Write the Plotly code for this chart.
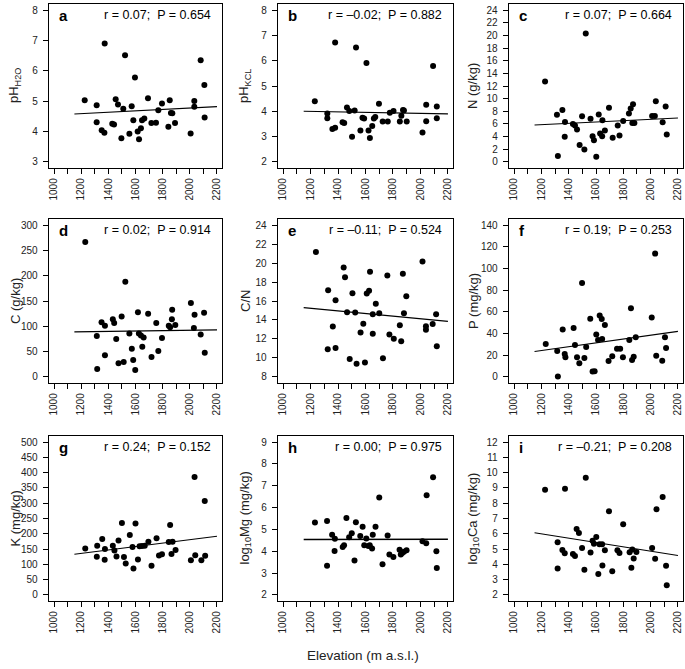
import plotly.graph_objects as go

# ---------------- data ----------------
elev_a = [1226,1314,1314,1351,1371,1373,1429,1442,1454,1471,1496,1510,1523,1555,1572,1584,1596,1616,1626,1640,1648,1665,1692,1717,1751,1768,1795,1842,1852,1861,1871,1891,2006,2033,2033,2080,2107,2109]
ph_h2o = [5.03,4.87,4.31,4.04,3.96,6.90,4.26,4.23,5.06,4.89,3.78,4.75,6.51,3.93,4.83,4.37,5.78,4.00,3.75,4.11,4.37,4.43,5.10,4.28,4.29,4.70,4.92,4.16,5.03,4.61,4.60,4.28,3.94,5.01,4.82,6.35,5.53,4.46]

elev_b = [1231,1322,1322,1359,1379,1379,1433,1445,1465,1482,1502,1521,1531,1563,1578,1590,1607,1622,1632,1649,1661,1671,1698,1725,1762,1777,1804,1850,1861,1873,1880,1900,2015,2042,2042,2092,2119,2119]
ph_kcl = [4.40,3.91,3.73,3.30,3.35,6.72,3.57,3.54,4.15,4.01,2.99,4.03,6.52,3.24,3.75,3.72,5.91,3.24,2.95,3.42,3.72,3.78,4.30,3.60,3.60,3.94,4.01,3.60,3.82,4.05,4.03,3.60,3.16,4.26,3.61,5.79,4.19,3.73]

elev_c = [1227,1314,1321,1354,1373,1371,1431,1446,1461,1480,1498,1515,1525,1560,1575,1585,1602,1620,1630,1645,1647,1665,1695,1722,1759,1772,1799,1841,1854,1871,1866,1881,2011,2031,2038,2088,2110,2118]
n_gkg = [12.73,7.46,0.94,8.19,6.31,3.96,6.0,5.74,5.11,2.66,7.2,1.98,20.29,6.83,4.07,3.44,0.83,7.51,4.49,4.07,6.57,4.96,8.55,3.81,5.74,4.17,6.47,7.67,8.45,9.13,6.16,6.16,7.25,7.25,9.6,6.26,8.76,4.33]

elev_d = [1230,1315,1318,1350,1375,1375,1433,1443,1458,1475,1498,1513,1525,1555,1573,1583,1598,1618,1625,1640,1650,1660,1693,1718,1753,1768,1795,1845,1855,1868,1870,1893,2008,2035,2030,2080,2105,2110]
c_gkg = [266.7,81,15.7,107.8,43,101,114,106.5,75,26.8,119.6,29.4,188,86,55.6,33.3,13.7,128,86,81.7,59.5,78,124.8,39.2,106.5,51,77,101,98,114,132.7,102.6,146,123,96.7,83.7,126.8,47.7]

elev_e = [1239,1328,1325,1362,1382,1382,1441,1451,1466,1485,1505,1525,1535,1564,1584,1596,1609,1626,1633,1653,1653,1675,1700,1727,1759,1774,1806,1850,1860,1872,1880,1897,2015,2040,2040,2089,2114,2119]
cn_ratio = [21.15,17.12,10.92,13.30,16.09,11.06,19.53,18.50,14.81,9.89,16.81,14.78,9.38,12.68,13.61,9.51,16.78,17.08,19.08,14.61,12.54,15.71,14.71,9.96,18.70,12.47,12.03,13.44,11.75,18.87,14.71,16.50,20.15,13.33,12.96,13.57,14.61,11.23]

elev_f = [1232,1316,1321,1356,1371,1376,1436,1446,1461,1478,1498,1515,1528,1558,1575,1590,1602,1615,1627,1642,1645,1665,1692,1719,1754,1777,1797,1844,1856,1864,1876,1891,2008,2033,2041,2085,2105,2113]
p_mgkg = [30.3,23.9,0.3,43.8,21.1,18.1,45,29.4,18.1,12.6,86.7,17.5,27.6,53.6,4.9,5.2,39.2,34,56.7,53.3,34.9,47.8,14.7,19,26,26,18.1,34,63.4,15.6,18.7,36.5,54.8,113.7,19.6,15,36.5,26.7]

elev_g = [1230,1318,1315,1355,1375,1373,1433,1445,1460,1475,1500,1515,1528,1558,1578,1585,1600,1618,1630,1648,1668,1695,1718,1755,1773,1795,1845,1855,1865,1873,1895,2008,2035,2040,2085,2110,2113]
k_mgkg = [152,161,125,183,150,115,161,145,126,178,235,124,103,196,157,86,234,116,159,160,161,174,95,185,129,133,173,229,134,174,147,113,386,130,113,307,128]

elev_h = [1232,1320,1320,1357,1377,1375,1434,1444,1461,1481,1500,1520,1530,1562,1579,1591,1606,1621,1631,1648,1653,1673,1700,1724,1761,1774,1803,1848,1857,1867,1880,1899,2015,2042,2045,2092,2116,2119]
log_mg = [5.32,5.39,3.34,4.76,4.57,4.01,4.19,4.27,5.52,4.64,4.82,3.58,5.33,4.70,5.12,4.27,4.58,4.24,4.28,4.12,4.75,5.12,6.46,3.40,4.72,3.85,3.74,4.07,3.85,3.92,3.98,4.04,4.46,4.37,6.57,7.39,4.00,3.23]

elev_i = [1227,1319,1319,1354,1371,1373,1431,1446,1458,1475,1498,1515,1525,1560,1575,1585,1602,1617,1625,1645,1647,1665,1695,1719,1757,1772,1799,1846,1859,1866,1876,1896,2011,2033,2043,2088,2113,2118]
log_ca = [8.88,3.73,5.44,4.94,4.73,8.95,4.68,4.55,6.31,6.05,5.07,3.64,9.66,4.77,5.55,5.35,5.79,3.36,5.31,5.31,3.93,4.92,7.48,3.54,4.92,4.75,6.63,4.79,3.77,4.97,4.38,4.81,5.07,4.36,7.61,8.41,3.90,2.63]

# fitted-line end values
trend_x = [1150, 2200]
trend_a = [4.58, 4.82]
trend_b = [4.00, 3.90]
trend_c = [5.84, 6.94]
trend_d = [89, 93]
trend_e = [15.3, 13.85]
trend_f = [23.5, 42]
trend_g = [133, 192]
trend_h = [4.54, 4.55]
trend_i = [6.07, 4.58]

letters = ["a", "b", "c", "d", "e", "f", "g", "h", "i"]
stats = ["r = 0.07;  P = 0.654", "r = \u20130.02;  P = 0.882", "r = 0.07;  P = 0.664",
         "r = 0.02;  P = 0.914", "r = \u20130.11;  P = 0.524", "r = 0.19;  P = 0.253",
         "r = 0.24;  P = 0.152", "r = 0.00;  P = 0.975", "r = \u20130.21;  P = 0.208"]
y_titles = ["pH<sub>H2O</sub>", "pH<sub>KCL</sub>", "N (g/kg)",
            "C (g/kg)", "C/N", "P (mg/kg)",
            "K (mg/kg)", "log<sub>10</sub>Mg (mg/kg)", "log<sub>10</sub>Ca (mg/kg)"]
y_ticks = [(3, 8, 1), (2, 8, 1), (0, 24, 2), (0, 300, 50), (8, 24, 2), (0, 140, 20),
           (0, 500, 50), (2, 9, 1), (2, 12, 1)]
x_title = "Elevation (m a.s.l.)"

xs = [elev_a, elev_b, elev_c, elev_d, elev_e, elev_f, elev_g, elev_h, elev_i]
ys = [ph_h2o, ph_kcl, n_gkg, c_gkg, cn_ratio, p_mgkg, k_mgkg, log_mg, log_ca]
trends = [trend_a, trend_b, trend_c, trend_d, trend_e, trend_f, trend_g, trend_h, trend_i]

# ---------------- layout geometry (screen pixels) ----------------
W, H = 685, 669
col_px = [(49, 222), (278, 453), (509, 683)]
row_px = [(4, 168), (219, 383), (436, 601)]
ytitle_px = [15, 245, 473]
FONT = "Liberation Sans, Arial, Helvetica, sans-serif"

def px2x(p):
    return p / W

def px2y(p):
    return 1 - p / H

fig = go.Figure()
layout = dict(width=W, height=H, margin=dict(l=0, r=0, t=0, b=0),
              paper_bgcolor="white", plot_bgcolor="white", showlegend=False,
              font=dict(family=FONT, color="#111"))
annotations = []

for k in range(9):
    r, c = divmod(k, 3)
    n = k + 1
    xa = "x" if n == 1 else f"x{n}"
    ya = "y" if n == 1 else f"y{n}"
    x0, x1 = col_px[c]
    yt, yb = row_px[r]
    lo, hi, step = y_ticks[k]
    pad = (hi - lo) * 0.04

    fig.add_trace(go.Scatter(x=xs[k], y=ys[k], mode="markers", xaxis=xa, yaxis=ya,
                             marker=dict(color="black", size=6, line=dict(width=0)),
                             hoverinfo="skip"))
    fig.add_trace(go.Scatter(x=trend_x, y=trends[k], mode="lines", xaxis=xa, yaxis=ya,
                             line=dict(color="black", width=1.6 if k == 7 else 1.1),
                             hoverinfo="skip"))

    layout["xaxis" if n == 1 else f"xaxis{n}"] = dict(
        domain=[px2x(x0), px2x(x1)], anchor=ya, range=[963, 2237],
        tickmode="linear", tick0=1000, dtick=200, ticks="outside", ticklen=5,
        tickwidth=1, tickcolor="black", tickangle=-90,
        tickfont=dict(size=10, color="#222", family=FONT),
        showline=True, mirror=True, linecolor="black", linewidth=1.3,
        showgrid=False, zeroline=False,
        minor=dict(tick0=1000, dtick=100, ticks="outside", ticklen=5, tickwidth=1,
                   tickcolor="black", showgrid=False))
    layout["yaxis" if n == 1 else f"yaxis{n}"] = dict(
        domain=[px2y(yb), px2y(yt)], anchor=xa, range=[lo - pad, hi + pad],
        tickmode="linear", tick0=lo, dtick=step, ticks="outside", ticklen=5,
        tickwidth=1, tickcolor="black", ticklabelstandoff=3,
        tickfont=dict(size=10, color="#222", family=FONT),
        showline=True, mirror=True, linecolor="black", linewidth=1.3,
        showgrid=False, zeroline=False)

    annotations.append(dict(text=f"<b>{letters[k]}</b>", xref="paper", yref="paper",
                            x=px2x(x0 + 8), y=px2y(yt + 1), xanchor="left", yanchor="top",
                            showarrow=False, font=dict(size=15, color="black", family=FONT)))
    annotations.append(dict(text=stats[k].replace("  ", "\u00a0 "), xref="paper", yref="paper",
                            x=px2x(x1 - 9), y=px2y(yt + 2), xanchor="right", yanchor="top",
                            showarrow=False, font=dict(size=12.5, color="black", family=FONT)))
    annotations.append(dict(text=y_titles[k], xref="paper", yref="paper",
                            x=px2x(ytitle_px[c]), y=px2y((yt + yb) / 2), textangle=-90,
                            xanchor="center", yanchor="middle", showarrow=False,
                            font=dict(size=13, color="#222", family=FONT)))

annotations.append(dict(text=x_title, xref="paper", yref="paper", x=px2x(363), y=px2y(655),
                        xanchor="center", yanchor="middle", showarrow=False,
                        font=dict(size=13.5, color="#222", family=FONT)))
layout["annotations"] = annotations
fig.update_layout(**layout)
# remove the browser's default page margin so the 685x669 figure fills the window
fig.write_html("out.html", config={"displayModeBar": False, "staticPlot": True},
               post_script="document.body.style.margin='0';document.body.style.overflow='hidden';")
